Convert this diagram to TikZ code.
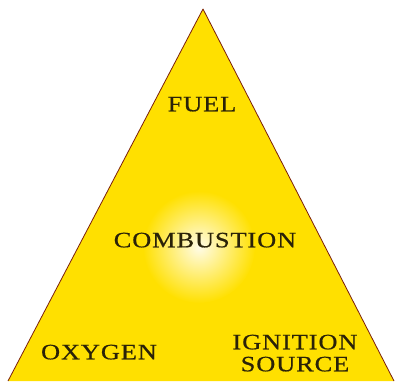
\documentclass[tikz,border=0pt]{standalone}
\usepackage{fontspec}
\setmainfont{Liberation Serif}
\definecolor{flame}{HTML}{FFE000}
\definecolor{rim}{HTML}{7A1E0A}
\definecolor{ink}{HTML}{2A2208}
\definecolor{glow}{HTML}{FFFCE8}
\newcommand{\labelfont}{\fontsize{22}{24}\selectfont
  \addfontfeature{FakeStretch=1.2, FakeBold=0.6, LetterSpace=4}}
\tikzset{
  side/.style={anchor=center, inner sep=0pt, text height=14.6pt, text depth=0pt,
    text=ink, font=\labelfont}
}

\begin{document}
\begin{tikzpicture}[x=1pt,y=1pt]
  \useasboundingbox (0,0) rectangle (396,381);
  \fill[white] (0,0) rectangle (396,381);

  % the triangle and its glow
  \coordinate (apex) at (203,372);
  \coordinate (left) at (8,0);
  \coordinate (right) at (394,0);
  \fill[flame] (apex) -- (left) -- (right) -- cycle;
  \shade[inner color=glow, outer color=flame] (199,134) circle (56);
  \draw[rim, line width=0.8pt, line join=round] (left) -- (apex) -- (right);

  % labels
  \node[side] (fuel) at (202,277) {FUEL};
  \node[side] (combustion) at (205,141) {COMBUSTION};
  \node[side] (oxygen) at (99,29) {OXYGEN};
  \node[side] (ignition) at (295,39) {IGNITION};
  \node[side] (source) at (295,17) {SOURCE};
\end{tikzpicture}
\end{document}
